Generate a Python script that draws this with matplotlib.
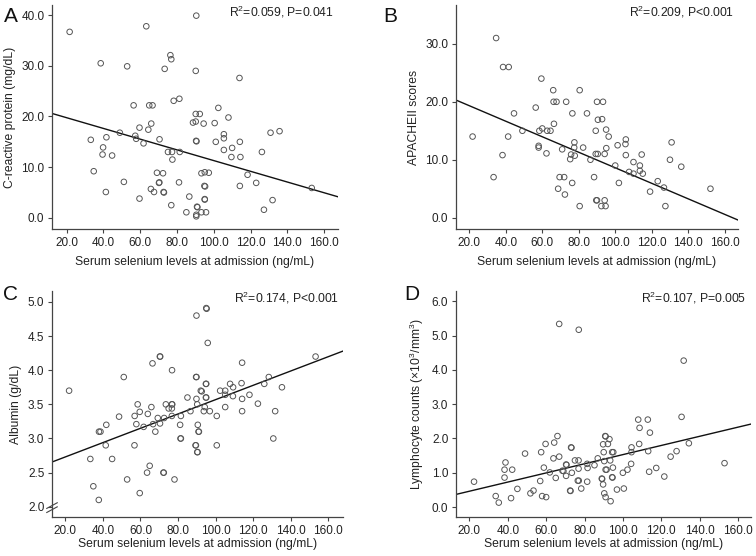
import numpy as np
import matplotlib
matplotlib.use("Agg")
import matplotlib.pyplot as plt

plt.rcParams['font.family'] = ['Liberation Sans', 'DejaVu Sans']
plt.rcParams['mathtext.fontset'] = 'custom'
plt.rcParams['mathtext.rm'] = 'Liberation Sans'
plt.rcParams['mathtext.it'] = 'Liberation Sans'

# ---- data ----
# A: C-reactive protein
a_sel = [21.6, 63.3, 90.5, 38.5, 52.9, 76.4, 76.9, 73.3, 90.2, 114.0, 56.4, 64.9, 66.7,
         78.2, 81.3, 90.2, 92.4, 88.7, 90.2, 94.5, 100.5, 102.5, 108.0, 59.6, 64.4, 66.0,
         48.9, 57.3, 57.8, 41.6, 33.1, 61.8, 70.5, 39.8, 39.5, 44.7, 34.7, 75.1, 77.3,
         77.5, 81.5, 90.4, 90.6, 101.1, 105.5, 105.5, 110.0, 114.2, 105.5, 109.6, 114.5,
         126.2, 130.9, 135.8, 118.4, 123.1, 114.2, 127.3, 132.0, 153.3, 69.1, 72.4, 70.2,
         70.4, 51.1, 41.3, 59.6, 65.8, 67.5, 72.7, 72.9, 76.9, 81.1, 86.7, 85.1, 90.5,
         90.5, 90.9, 91.1, 93.3, 95.8, 93.3, 95.1, 97.3, 94.9, 95.1, 95.1, 95.3]
a_crp = [36.7, 37.8, 39.9, 30.5, 29.9, 32.1, 31.3, 29.4, 29.0, 27.6, 22.2, 22.2, 22.2,
         23.1, 23.5, 20.5, 20.5, 18.8, 19.0, 18.6, 18.7, 21.7, 19.8, 17.8, 17.4, 18.6,
         16.8, 16.2, 15.6, 15.9, 15.4, 14.7, 15.5, 13.9, 12.5, 12.3, 9.2, 13.0, 13.0,
         11.5, 13.0, 15.2, 15.1, 15.0, 16.5, 15.7, 13.8, 15.0, 13.4, 12.0, 12.0,
         13.0, 16.8, 17.1, 8.5, 6.9, 6.3, 1.6, 3.5, 5.9, 8.9, 8.8, 6.9,
         7.0, 7.1, 5.1, 3.8, 5.7, 5.1, 5.1, 5.0, 2.5, 7.0, 4.2, 1.1, 0.6,
         0.3, 2.2, 2.1, 1.1, 1.1, 8.8, 9.0, 8.9, 6.3, 3.7, 3.6, 6.2]

# B: APACHE II scores
b_sel = [34.7, 38.5, 41.6, 59.5, 66.0, 80.5, 66.2, 67.8, 73.1, 90.0, 93.3, 56.4, 76.5,
         84.5, 44.5, 90.5, 92.8, 66.4, 58.4, 60.0, 62.7, 64.5, 49.1, 89.3, 95.0, 96.4,
         21.8, 41.3, 58.0, 58.0, 62.3, 38.2, 33.3, 70.9, 77.6, 77.5, 82.4, 75.8, 77.8,
         75.3, 86.4, 89.3, 90.4, 94.2, 95.1, 100.0, 101.3, 105.8, 105.6, 105.8, 110.0,
         107.6, 110.0, 113.5, 114.5, 113.5, 115.1, 102.0, 123.3, 119.1, 126.7, 130.0,
         130.9, 136.2, 152.2, 127.5, 69.5, 72.0, 76.4, 68.7, 72.4, 88.4, 80.5, 89.6,
         90.0, 94.2, 92.4, 94.7]
b_apache = [31.0, 26.0, 26.0, 24.0, 22.0, 22.0, 20.0, 20.0, 20.0, 20.0, 20.0, 19.0, 18.0,
            18.0, 18.0, 16.9, 17.0, 16.2, 15.0, 15.4, 15.0, 15.0, 15.0, 15.0, 15.2, 14.0,
            14.0, 14.0, 12.4, 12.1, 11.1, 10.8, 7.0, 11.8, 13.0, 12.1, 12.1, 10.9, 10.7,
            10.1, 10.0, 11.0, 11.0, 11.0, 12.0, 9.0, 12.5, 13.5, 12.7, 10.8, 9.6,
            7.9, 7.6, 9.0, 10.9, 8.1, 7.6, 6.0, 6.3, 4.5, 5.2, 10.0,
            13.0, 8.8, 5.0, 2.0, 7.0, 7.0, 6.0, 5.0, 4.0, 7.0, 2.0, 3.0,
            3.0, 3.0, 2.0, 2.0]

# C: Albumin
c_sel = [22.0, 51.1, 66.4, 70.3, 70.5, 76.8, 89.8, 95.0, 95.2, 95.8, 114.1, 153.2, 128.3,
         125.9, 113.8, 107.7, 109.3, 102.4, 105.1, 118.0, 109.2, 105.1, 114.1, 122.5, 135.3,
         131.7, 130.7, 114.1, 105.1, 100.6, 100.6, 96.9, 93.7, 94.2, 94.8, 95.0, 94.8, 95.0,
         92.1, 92.6, 89.6, 89.8, 89.8, 90.2, 90.5, 90.9, 91.1, 89.3, 89.5, 90.2, 90.4,
         86.6, 85.0, 81.5, 81.1, 81.3, 81.5, 76.7, 76.9, 76.7, 76.7, 75.0, 73.5, 72.6,
         69.2, 70.4, 67.9, 66.7, 65.8, 63.9, 61.7, 59.6, 58.5, 57.8, 56.9, 48.6, 41.8,
         37.9, 38.7, 41.5, 44.9, 33.3, 34.9, 37.8, 52.9, 59.6, 63.5, 64.9, 56.8, 72.2,
         72.4, 78.1]
c_alb = [3.70, 3.90, 4.10, 4.20, 4.20, 4.00, 4.80, 4.91, 4.90, 4.40, 4.11, 4.20, 3.90,
         3.80, 3.81, 3.80, 3.75, 3.70, 3.70, 3.64, 3.62, 3.64, 3.58, 3.51, 3.75,
         3.40, 3.00, 3.40, 3.46, 3.33, 2.90, 3.40, 3.40, 3.46, 3.80, 3.80, 3.60, 3.60,
         3.70, 3.69, 3.90, 3.90, 3.58, 3.50, 3.20, 3.10, 3.10, 2.90, 2.90, 2.80, 2.80,
         3.40, 3.60, 3.33, 3.20, 3.00, 3.00, 3.50, 3.50, 3.44, 3.33, 3.44, 3.50, 3.30,
         3.30, 3.22, 3.10, 3.21, 3.46, 3.36, 3.17, 3.39, 3.50, 3.21, 3.33, 3.32, 3.20,
         3.10, 3.10, 2.90, 2.70, 2.70, 2.30, 2.10, 2.40, 2.20, 2.50, 2.60, 2.90, 2.50,
         2.50, 2.40]

# D: Lymphocyte counts
d_sel = [22.4, 33.7, 35.3, 38.3, 38.8, 38.3, 42.3, 41.7, 45.0, 49.0, 51.8, 53.4, 56.9,
         57.4, 57.9, 60.0, 58.8, 59.7, 61.9, 63.8, 64.2, 65.0, 65.9, 66.8, 66.8, 73.0,
         73.2, 68.5, 69.0, 70.4, 70.6, 70.4, 72.5, 72.7, 73.4, 75.0, 76.9, 76.9, 76.5,
         77.0, 77.0, 78.3, 81.4, 81.6, 81.4, 85.2, 86.9, 89.0, 89.2, 89.7, 90.0, 89.7,
         90.3, 90.8, 91.0, 90.3, 91.0, 91.0, 91.5, 92.2, 93.0, 93.4, 93.6, 94.4, 95.0,
         94.8, 94.4, 94.6, 96.9, 100.0, 100.5, 102.4, 104.3, 104.5, 104.5, 108.0, 108.7,
         108.5, 113.0, 114.1, 113.2, 113.7, 117.4, 121.6, 124.9, 128.0, 130.6, 131.7,
         134.4, 153.0]
d_lym = [0.74, 0.32, 0.13, 1.09, 1.30, 0.86, 1.09, 0.26, 0.53, 1.56, 0.40, 0.48, 0.76,
         1.60, 0.32, 0.29, 1.15, 1.84, 1.01, 1.42, 1.88, 0.85, 2.07, 1.47, 5.34, 1.74,
         1.73, 1.06, 1.05, 1.24, 1.23, 0.91, 0.48, 0.47, 1.00, 1.36, 1.36, 1.12, 0.77,
         0.77, 5.17, 0.54, 1.26, 1.14, 0.74, 1.22, 1.42, 0.83, 0.82, 0.66, 1.60, 1.83,
         1.34, 2.07, 2.06, 0.40, 0.29, 1.09, 1.09, 1.84, 1.98, 1.36, 0.17, 1.60, 1.60,
         1.15, 0.87, 0.86, 0.51, 1.00, 0.54, 1.09, 1.26, 1.74, 1.60, 2.55, 2.31,
         1.84, 2.55, 2.17, 1.63, 1.03, 1.14, 0.89, 1.47, 1.63, 2.63, 4.27,
         1.86, 1.28]

# fitted lines (intercept, slope) and stats text, as printed on the figure
fit_a = (21.87, -0.1057)
fit_b = (22.0, -0.1339)
fit_c = (2.52, 0.01049)
fit_d = (0.195, 0.01334)
stat_a = r"R$^2$=0.059, P=0.041"
stat_b = r"R$^2$=0.209, P<0.001"
stat_c = r"R$^2$=0.174, P<0.001"
stat_d = r"R$^2$=0.107, P=0.005"

xlabel = "Serum selenium levels at admission (ng/mL)"
xticks = [20, 40, 60, 80, 100, 120, 140, 160]

W, H = 756, 556
fig = plt.figure(figsize=(W / 100, H / 100), dpi=100)

axis_col = '#444444'
pt_col = '#555555'


def px_axes(l, t, r, b):
    return fig.add_axes([l / W, 1 - b / H, (r - l) / W, (b - t) / H])


def panel(ax, x, y, fit, stat, ylabel, yticks, xlim, ylim, xpad=5):
    ax.scatter(x, y, s=16, facecolors='none', edgecolors=pt_col, linewidths=0.7, zorder=3)
    xx = np.array(xlim)
    ax.plot(xx, fit[0] + fit[1] * xx, color='#111111', lw=1.0, zorder=2)
    ax.set_xlim(*xlim)
    ax.set_ylim(*ylim)
    ax.set_xticks(xticks)
    ax.set_xticklabels([f'{v:.1f}' for v in xticks])
    ax.set_yticks(yticks)
    ax.set_yticklabels([f'{v:.1f}' for v in yticks])
    for s in ['top', 'right']:
        ax.spines[s].set_visible(False)
    for s in ['left', 'bottom']:
        ax.spines[s].set_color(axis_col)
        ax.spines[s].set_linewidth(0.9)
    ax.tick_params(axis='both', direction='out', length=3, width=0.8, color=axis_col,
                   labelsize=8.5, labelcolor='#222222', pad=2.5)
    ax.set_xlabel(xlabel, fontsize=8.7, color='#222222', labelpad=xpad)
    ax.set_ylabel(ylabel, fontsize=8.7, color='#222222', labelpad=4)
    ax.text(0.985, 1.005, stat, transform=ax.transAxes, ha='right', va='top',
            fontsize=8.7, color='#222222')


axA = px_axes(52, 5, 338, 229)
panel(axA, a_sel, a_crp, fit_a, stat_a, "C-reactive protein (mg/dL)",
      [0, 10, 20, 30, 40], (12.0, 167.6), (-2.2, 42.0))

axB = px_axes(456, 5, 738, 229)
panel(axB, b_sel, b_apache, fit_b, stat_b, "APACHEII scores",
      [0, 10, 20, 30], (12.7, 167.3), (-1.95, 36.7))

axC = px_axes(52, 291, 343, 517)
panel(axC, c_sel, c_alb, fit_c, stat_c, "Albumin (g/dL)",
      [2.0, 2.5, 3.0, 3.5, 4.0, 4.5, 5.0], (12.9, 167.8), (1.85, 5.16), xpad=1)

axD = px_axes(456, 291, 751, 517)
panel(axD, d_sel, d_lym, fit_d, stat_d, r"Lymphocyte counts ($\times$10$^3$/mm$^3$)",
      [0, 1, 2, 3, 4, 5, 6], (13.0, 166.8), (-0.29, 6.3), xpad=1)

# axis break marks on the albumin y axis
for dy in (0.0, 0.018):
    axC.plot([-0.018, 0.018], [0.02 + dy, 0.045 + dy], transform=axC.transAxes,
             color=axis_col, lw=0.8, clip_on=False)

# panel letters
for lab, (px, py) in zip("ABCD", [(4, 16), (383, 16), (3, 294), (404, 295)]):
    fig.text(px / W, 1 - py / H, lab, fontsize=15, ha='left', va='center', color='#111111')

fig.savefig("out.png", dpi=100, facecolor='white')
